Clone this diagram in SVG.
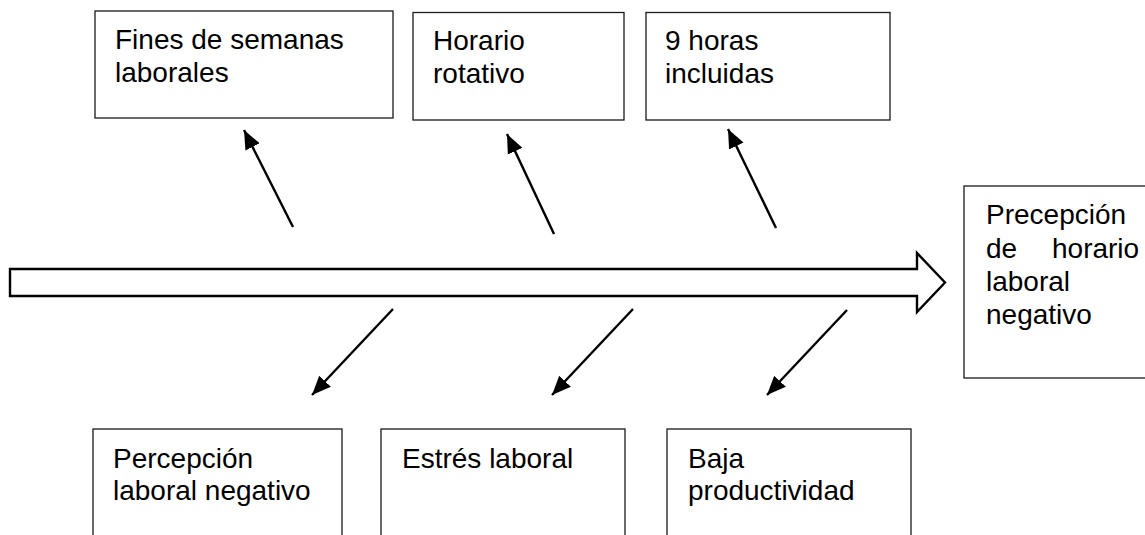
<svg xmlns="http://www.w3.org/2000/svg" width="1145" height="535" viewBox="0 0 1145 535">
<style>
.box{fill:#fff;stroke:#1a1a1a;stroke-width:1.3}
.t{font-family:"Liberation Sans",Arial,sans-serif;font-size:28px;fill:#000}
.c{stroke:#000;stroke-width:2.4;fill:none;marker-end:url(#ah)}
</style>
<defs>
<marker id="ah" markerUnits="userSpaceOnUse" markerWidth="22" markerHeight="22" viewBox="0 0 22 22" refX="19" refY="11" orient="auto">
<path d="M0,3 L19,11 L0,19 Z" fill="#000"/>
</marker>
</defs>
<rect width="1145" height="535" fill="#fff"/>
<g id="connectors">
<polygon id="spine" points="10,269 917,269 917,253 945,282.5 917,312 917,296 10,296" fill="#fff" stroke="#000" stroke-width="2.4" stroke-linejoin="miter"/>
<line class="c" x1="293" y1="227" x2="244" y2="130"/>
<line class="c" x1="554" y1="234" x2="507" y2="134"/>
<line class="c" x1="776" y1="228" x2="728" y2="129"/>
<line class="c" x1="393" y1="309" x2="312" y2="395"/>
<line class="c" x1="633" y1="309" x2="552" y2="395"/>
<line class="c" x1="847" y1="310" x2="767" y2="395"/>
</g>
<g id="n1"><rect class="box" x="95" y="11" width="298" height="107"/>
<text class="t" x="115" y="48.5">Fines de semanas</text><text class="t" x="115" y="81.5">laborales</text></g>
<g id="n2"><rect class="box" x="413" y="12.5" width="211" height="107.5"/>
<text class="t" x="433" y="49.5">Horario</text><text class="t" x="433" y="82.5">rotativo</text></g>
<g id="n3"><rect class="box" x="646" y="12.5" width="244" height="107.5"/>
<text class="t" x="665" y="49.5">9 horas</text><text class="t" x="665" y="82.5">incluidas</text></g>
<g id="n4"><rect class="box" x="964" y="186" width="190" height="192"/>
<text class="t" x="986" y="224">Precepción</text>
<text class="t" x="986" y="258">de <tspan x="1052">horario</tspan></text>
<text class="t" x="986" y="291">laboral</text>
<text class="t" x="986" y="324">negativo</text></g>
<g id="n5"><rect class="box" x="93" y="429" width="249" height="120"/>
<text class="t" x="113" y="468">Percepción</text><text class="t" x="113" y="500">laboral negativo</text></g>
<g id="n6"><rect class="box" x="381" y="429" width="244" height="120"/>
<text class="t" x="402" y="468">Estrés laboral</text></g>
<g id="n7"><rect class="box" x="667" y="429" width="244" height="120"/>
<text class="t" x="688" y="468">Baja</text><text class="t" x="688" y="500">productividad</text></g>
</svg>
